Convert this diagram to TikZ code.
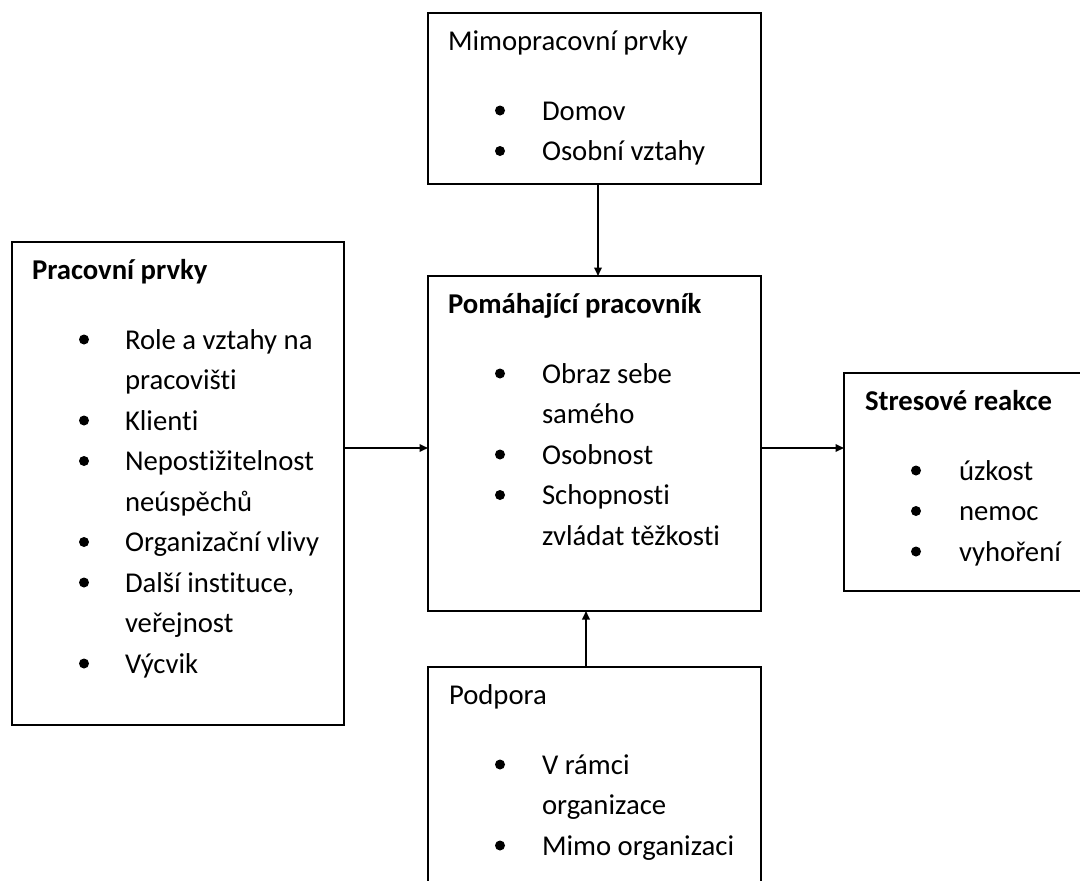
\documentclass[tikz,border=0pt]{standalone}
\usepackage{fontspec}
\setmainfont{Carlito}[Ligatures=NoCommon]
\usetikzlibrary{arrows.meta}
\tikzset{
  box/.style={draw, line width=1.8pt, anchor=north west, inner sep=0pt, outer sep=0pt},
  txt/.style={anchor=base west, inner sep=0pt, outer sep=0pt, font=\fontsize{28.7}{40.5}\selectfont},
  arr/.style={line width=1.8pt, -{Triangle[length=8.5pt,width=7.5pt]}},
  bul/.style={fill=black}
}
\begin{document}
\begin{tikzpicture}[x=1pt,y=-1pt]
\clip (0,0) rectangle (1080,881);
% boxes
\node[box, minimum width=333pt, minimum height=171pt] (mimo) at (428,13) {};
\node[box, minimum width=333pt, minimum height=335pt] (center) at (428,276) {};
\node[box, minimum width=332pt, minimum height=483pt] (prac) at (12,242) {};
\node[box, minimum width=280pt, minimum height=218pt] (stres) at (844,373) {};
\node[box, minimum width=333pt, minimum height=260pt] (podp) at (428,667) {};
% texts
\node[txt] (mimoH) at (448,50) {Mimopracovní prvky};
\node[txt] (mimoL) at (542,120) {\begin{tabular}[t]{@{}l@{}}Domov\\Osobní vztahy\end{tabular}};
\node[txt, font=\fontsize{28.7}{40.5}\selectfont\bfseries] (centerH) at (448,313) {Pomáhající pracovník};
\node[txt] (centerL) at (542,383) {\begin{tabular}[t]{@{}l@{}}Obraz sebe\\samého\\Osobnost\\Schopnosti\\zvládat těžkosti\end{tabular}};
\node[txt, font=\fontsize{28.7}{40.5}\selectfont\bfseries] (pracH) at (32,279) {Pracovní prvky};
\node[txt] (pracL) at (125,349) {\begin{tabular}[t]{@{}l@{}}Role a vztahy na\\pracovišti\\Klienti\\Nepostižitelnost\\neúspěchů\\Organizační vlivy\\Další instituce,\\veřejnost\\Výcvik\end{tabular}};
\node[txt, font=\fontsize{28.7}{40.5}\selectfont\bfseries] (stresH) at (865,410) {Stresové reakce};
\node[txt] (stresL) at (959,480) {\begin{tabular}[t]{@{}l@{}}úzkost\\nemoc\\vyhoření\end{tabular}};
\node[txt] (podpH) at (449,704) {Podpora};
\node[txt] (podpL) at (542,774) {\begin{tabular}[t]{@{}l@{}}V rámci\\organizace\\Mimo organizaci\end{tabular}};
% bullets
\foreach \x/\y in {500/120, 500/160.5,
                   500/383, 500/464, 500/504.5,
                   84/349, 84/430, 84/470.5, 84/551.5, 84/592, 84/673,
                   916/480, 916/520.5, 916/561,
                   500/774, 500/855}
  \fill[bul] (\x,\y-9.5) circle[radius=5pt];
% connectors
\coordinate (cw) at ([yshift=-4.5pt]center.west);
\coordinate (ce) at ([yshift=-4.5pt]center.east);
\draw[arr] ([xshift=3.5pt]mimo.south) -- ([xshift=3.5pt]center.north);
\draw[arr] ([xshift=-8.5pt]podp.north) -- ([xshift=-8.5pt]center.south);
\draw[arr] (prac.east |- cw) -- (cw);
\draw[arr] (ce) -- (stres.west |- ce);
\end{tikzpicture}
\end{document}
